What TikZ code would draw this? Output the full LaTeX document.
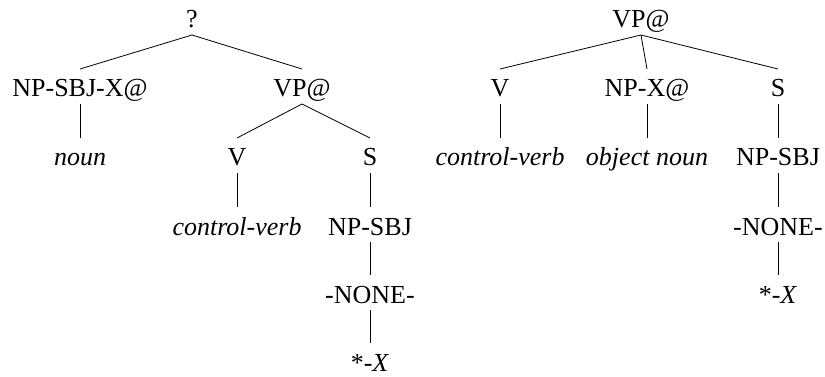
\documentclass[tikz,border=0pt]{standalone}
\usepackage{fontspec}
\setmainfont{Liberation Serif}
\newfontfamily\treefont{Liberation Serif}
\begin{document}
\begin{tikzpicture}[x=1pt,y=-1pt,
  lbl/.style={anchor=base,inner xsep=0pt,inner ysep=0pt,outer sep=0pt,
    text height=28pt,text depth=7pt,font=\treefont\fontsize{26}{30}\selectfont},
  lex/.style={lbl,font=\treefont\fontsize{26}{30}\selectfont\itshape},
  edge/.style={draw=black,line width=0.8pt}]
\useasboundingbox (0,0) rectangle (825,377);
% left tree
\node[lbl] (q) at (192,28) {?};
\node[lbl] (npx) at (80,97) {NP-SBJ-X@};
\node[lbl] (vp1) at (302,97) {VP@};
\node[lex] (noun) at (80,166) {noun};
\node[lbl] (v1) at (237,166) {V};
\node[lbl] (s1) at (370,166) {S};
\node[lex] (cv1) at (237,235) {control-verb};
\node[lbl] (nps1) at (370,235) {NP-SBJ};
\node[lbl] (none1) at (370,303) {-NONE-};
\node[lbl] (x1) at (370,371) {*-\textit{X}};
\draw[edge] (q.south) -- (npx.north);
\draw[edge] (q.south) -- (vp1.north);
\draw[edge] (npx.south) -- (noun.north);
\draw[edge] (vp1.south) -- (v1.north);
\draw[edge] (vp1.south) -- (s1.north);
\draw[edge] (v1.south) -- (cv1.north);
\draw[edge] (s1.south) -- (nps1.north);
\draw[edge] (nps1.south) -- (none1.north);
\draw[edge] (none1.south) -- (x1.north);
% right tree
\node[lbl] (vp2) at (641,28) {VP@};
\node[lbl] (v2) at (500,97) {V};
\node[lbl] (npx2) at (647,97) {NP-X@};
\node[lbl] (s2) at (778,97) {S};
\node[lex] (cv2) at (500,166) {control-verb};
\node[lex] (obj) at (647,166) {object noun};
\node[lbl] (nps2) at (778,166) {NP-SBJ};
\node[lbl] (none2) at (778,235) {-NONE-};
\node[lbl] (x2) at (778,303) {*-\textit{X}};
\draw[edge] (vp2.south) -- (v2.north);
\draw[edge] (vp2.south) -- (npx2.north);
\draw[edge] (vp2.south) -- (s2.north);
\draw[edge] (v2.south) -- (cv2.north);
\draw[edge] (npx2.south) -- (obj.north);
\draw[edge] (s2.south) -- (nps2.north);
\draw[edge] (nps2.south) -- (none2.north);
\draw[edge] (none2.south) -- (x2.north);
\end{tikzpicture}
\end{document}
